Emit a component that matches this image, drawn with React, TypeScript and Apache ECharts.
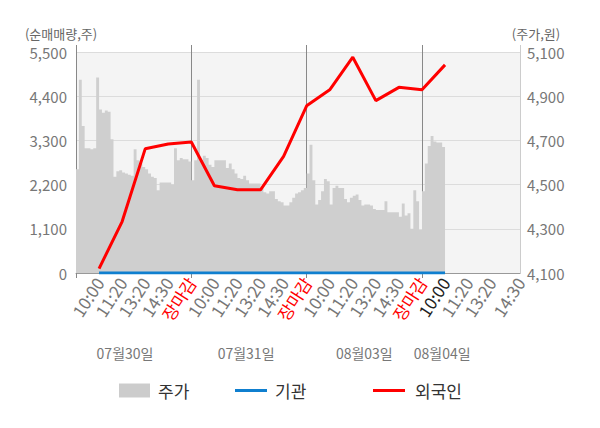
import { useEffect, useRef } from 'react';
import * as echarts from 'echarts';

const dayLabels = ['07월30일', '07월31일', '08월03일', '08월04일'];
const slotLabels = ['10:00', '11:20', '13:20', '14:30', '장마감'];
// number of data steps between consecutive time labels, per day
const slotSpans = [
  [8, 8, 8, 8, 8],
  [8, 8, 8, 8, 8],
  [8, 8, 8, 8, 8],
  [8, 8, 8, 10],
];
const currentSlot = { day: 3, slot: 0 };

// price (원), stepped series
const priceDay1 = [4570, 4975, 4765, 4665, 4665, 4660, 4665, 4985, 4840, 4825, 4835, 4830, 4705, 4535, 4560, 4565, 4555, 4550, 4545, 4540, 4660, 4610, 4595, 4580, 4570, 4550, 4535, 4530, 4475, 4510, 4510, 4510, 4510, 4500, 4665, 4610, 4620, 4615, 4615, 4605];
const priceDay2 = [4520, 4610, 4975, 4610, 4630, 4620, 4590, 4580, 4610, 4610, 4610, 4610, 4575, 4595, 4570, 4550, 4530, 4525, 4540, 4520, 4505, 4505, 4505, 4505, 4485, 4465, 4460, 4470, 4470, 4435, 4425, 4420, 4405, 4405, 4420, 4440, 4460, 4465, 4475, 4485];
const priceDay3 = [4550, 4680, 4520, 4410, 4430, 4470, 4525, 4515, 4410, 4485, 4495, 4485, 4485, 4435, 4420, 4440, 4450, 4455, 4430, 4405, 4410, 4410, 4405, 4390, 4385, 4385, 4385, 4425, 4375, 4375, 4375, 4375, 4355, 4415, 4360, 4370, 4300, 4475, 4425, 4295];
const priceDay4 = [4470, 4595, 4675, 4720, 4695, 4690, 4690, 4670, 4670];

// net buying (주) at each time label, from 07/30 10:00 to 08/04 10:00
const institutionNet = [0, 0, 0, 0, 0, 0, 0, 0, 0, 0, 0, 0, 0, 0, 0, 0];
const foreignNet = [110, 1280, 3090, 3210, 3260, 2170, 2070, 2070, 2900, 4160, 4560, 5370, 4290, 4620, 4560, 5180];

const leftAxis = { min: 0, max: 5500, interval: 1100 };
const rightAxis = { min: 4100, max: 5100, interval: 200 };

const FONT = '"Noto Sans CJK KR", "Noto Sans", sans-serif';

export default function App() {
  const ref = useRef<HTMLDivElement>(null);
  useEffect(() => {
    if (!ref.current) return;
    const chart = echarts.init(ref.current, undefined, { renderer: 'svg' });

    // build category axis
    const labels: string[] = [''];
    const labelColor: string[] = [''];
    const dayStart: number[] = [0];
    const slotIndex: number[] = [];
    slotSpans.forEach((spans, d) => {
      spans.forEach((span, s) => {
        for (let k = 1; k < span; k++) { labels.push(''); labelColor.push(''); }
        labels.push(slotLabels[s]);
        const isClose = slotLabels[s] === '장마감';
        const isCur = d === currentSlot.day && s === currentSlot.slot;
        labelColor.push(isClose ? '#ff0000' : isCur ? '#222222' : '#777777');
        slotIndex.push(labels.length - 1);
      });
      dayStart.push(labels.length - 1);
    });
    const cats = labels.map((_, i) => String(i));
    const lastIdx = cats.length - 1;
    const dayBoundaries = dayStart.slice(0, 4);

    const price = [...priceDay1, ...priceDay2, ...priceDay3, ...priceDay4];
    const instData = institutionNet.map((v, j) => [slotIndex[j], v]);
    const foreignData = foreignNet.map((v, j) => [slotIndex[j], v]);

    const dayCenters = [17, 59, 100, 127];

    const option: any = {
      animation: false,
      textStyle: { fontFamily: FONT },
      grid: {
        left: 76, right: 80, top: 52, bottom: 155,
        show: true, backgroundColor: '#f4f4f4', borderWidth: 0,
      },
      legend: [
        {
          data: [{ name: '주가', icon: 'rect' }],
          left: 114, top: 377, itemWidth: 31, itemHeight: 14,
          textStyle: { fontSize: 17, color: '#333', fontFamily: FONT, padding: [0, 0, 0, 3] },
        },
        {
          data: [{ name: '기관', icon: 'rect' }],
          left: 230, top: 377, itemWidth: 32, itemHeight: 3,
          textStyle: { fontSize: 17, color: '#333', fontFamily: FONT, padding: [0, 0, 0, 3] },
        },
        {
          data: [{ name: '외국인', icon: 'rect' }],
          left: 368, top: 377, itemWidth: 32, itemHeight: 3,
          textStyle: { fontSize: 17, color: '#333', fontFamily: FONT, padding: [0, 0, 0, 5] },
        },
      ],
      xAxis: [
        {
          type: 'category', data: cats, boundaryGap: false, position: 'bottom',
          axisLine: { show: true, lineStyle: { color: '#999', width: 1 } },
          axisTick: {
            show: true, length: 5, lineStyle: { color: '#888' },
            interval: (i: number) => dayBoundaries.includes(i),
          },
          splitLine: {
            show: true, lineStyle: { color: '#888', width: 1 },
            interval: (i: number) => dayBoundaries.includes(i) && i > 0,
          },
          axisLabel: {
            interval: 0, rotate: 57, fontSize: 17, margin: 6,
            formatter: (_v: string, i: number) => labels[i],
            color: (_v: string, i: number) => labelColor[i] || '#777',
          },
        },
        {
          type: 'category', data: cats, boundaryGap: false, position: 'top',
          axisLine: { show: false },
          axisTick: {
            show: true, length: 7, lineStyle: { color: '#888' },
            interval: (i: number) => dayBoundaries.includes(i),
          },
          axisLabel: { show: false },
          splitLine: { show: false },
        },
        {
          type: 'category', data: cats, boundaryGap: false, position: 'top',
          axisLine: { show: false },
          axisTick: {
            show: true, length: 7, lineStyle: { color: '#ccc' },
            interval: (i: number) => i === lastIdx,
          },
          axisLabel: { show: false },
          splitLine: { show: false },
        },
      ],
      yAxis: [
        {
          type: 'value', position: 'left', ...leftAxis,
          axisLine: { show: true, lineStyle: { color: '#888' } },
          axisTick: { show: false },
          splitLine: { show: true, lineStyle: { color: '#dcdcdc' } },
          axisLabel: {
            fontSize: 15, color: '#777', margin: 9,
            formatter: (v: number) => v.toLocaleString('en-US'),
          },
        },
        {
          type: 'value', position: 'right', ...rightAxis,
          axisLine: { show: true, lineStyle: { color: '#ccc' } },
          axisTick: { show: false },
          splitLine: { show: false },
          axisLabel: {
            fontSize: 15, color: '#777', margin: 7,
            formatter: (v: number) => v.toLocaleString('en-US'),
          },
        },
      ],
      graphic: [
        { type: 'text', x: 61, y: 33, style: { text: '(순매매량,주)', fontSize: 13, fill: '#666', align: 'center', verticalAlign: 'middle', fontFamily: FONT } },
        { type: 'text', x: 536, y: 33, style: { text: '(주가,원)', fontSize: 13, fill: '#666', align: 'center', verticalAlign: 'middle', fontFamily: FONT } },
      ],
      series: [
        {
          name: '주가', type: 'line', xAxisIndex: 0, yAxisIndex: 1, data: price,
          step: 'end', symbol: 'none', silent: true,
          itemStyle: { color: '#cccccc' },
          lineStyle: { width: 0, color: '#cccccc' },
          areaStyle: { color: '#cfcfcf', opacity: 1, origin: 'start' },
          z: 1,
        },
        {
          name: '기관', type: 'line', xAxisIndex: 0, yAxisIndex: 0, data: instData,
          symbol: 'none', itemStyle: { color: '#0f7fcf' },
          lineStyle: { width: 3, color: '#0f7fcf' }, z: 3,
        },
        {
          name: '외국인', type: 'line', xAxisIndex: 0, yAxisIndex: 0, data: foreignData,
          symbol: 'none', itemStyle: { color: '#ff0000' },
          lineStyle: { width: 3, color: '#ff0000' }, z: 4,
        },
      ],
    };
    chart.setOption(option);

    // date labels under the time axis, placed through the axis scale
    const dateGraphics = dayLabels.map((t, d) => {
      const px = chart.convertToPixel({ xAxisIndex: 0 }, dayCenters[d]) as number;
      return { type: 'text', x: px, y: 353, style: { text: t, fontSize: 14, fill: '#777', align: 'center', verticalAlign: 'middle', fontFamily: FONT } };
    });
    chart.setOption({ graphic: [...option.graphic, ...dateGraphics] });

    return () => chart.dispose();
  }, []);
  return <div ref={ref} style={{ position: 'absolute', left: 0, top: 0, width: 600, height: 428 }} />;
}
